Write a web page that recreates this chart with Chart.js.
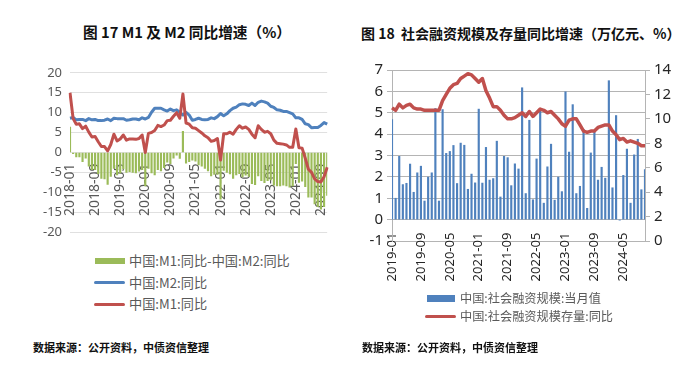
<!DOCTYPE html>
<html>
<head>
<meta charset="utf-8">
<script src="https://cdn.jsdelivr.net/npm/chart.js@4.4.1/dist/chart.umd.min.js"></script>
<style>
body { margin: 0; width: 700px; height: 373px; background: #fff; position: relative; overflow: hidden; font-family: "Noto Sans CJK SC", sans-serif; }
.abs { position: absolute; white-space: nowrap; }
.title { font-weight: bold; color: #111; line-height: 18px; }
.src { font-weight: bold; font-size: 11px; color: #111; line-height: 14px; }
.leg { color: #595959; line-height: 16px; }
.sw { position: absolute; }
canvas { position: absolute; }
</style>
</head>
<body>
<div class="abs title" style="left:83px;top:23px;font-size:14.7px;">图 17 M1 及 M2 同比增速（%）</div>
<div class="abs title" style="left:361px;top:24px;font-size:14px;">图 18&nbsp; 社会融资规模及存量同比增速（万亿元、%）</div>

<canvas id="chartLeft" width="327" height="191" style="left:20px;top:57px;"></canvas>
<canvas id="chartRight" width="350" height="240" style="left:350px;top:50px;"></canvas>

<!-- left legend -->
<div class="sw" style="left:95px;top:258px;width:30px;height:6px;background:#9bbb59;"></div>
<div class="abs leg" style="left:129px;top:253px;font-size:13.2px;">中国:M1:同比-中国:M2:同比</div>
<div class="sw" style="left:94px;top:281px;width:31px;height:3px;border-radius:2px;background:#4f81bd;"></div>
<div class="abs leg" style="left:129px;top:275px;font-size:13.2px;">中国:M2:同比</div>
<div class="sw" style="left:94px;top:303px;width:31px;height:3px;border-radius:2px;background:#c0504d;"></div>
<div class="abs leg" style="left:129px;top:296px;font-size:13.2px;">中国:M1:同比</div>

<!-- right legend -->
<div class="sw" style="left:427px;top:295px;width:28px;height:7px;background:#4f81bd;"></div>
<div class="abs leg" style="left:460px;top:290px;font-size:12.2px;">中国:社会融资规模:当月值</div>
<div class="sw" style="left:425px;top:315px;width:31px;height:3px;border-radius:2px;background:#c0504d;"></div>
<div class="abs leg" style="left:460px;top:308px;font-size:12.2px;">中国:社会融资规模存量:同比</div>

<div class="abs src" style="left:33px;top:340px;">数据来源：公开资料，中债资信整理</div>
<div class="abs src" style="left:362px;top:340px;">数据来源：公开资料，中债资信整理</div>

<script>
// 图17: 2018-01 ~ 2024-11 月度
var monthsLeft = [];
for (var y = 2018; y <= 2024; y++) {
    for (var m = 1; m <= 12; m++) {
        if (y === 2024 && m > 11) break;
        monthsLeft.push(y + '-' + (m < 10 ? '0' + m : m));
    }
}
var m1Yoy = [
    15.0, 8.5, 7.1, 7.2, 6.0, 6.6, 5.1, 3.9, 4.0, 2.7, 1.5, 1.5,
    0.4, 2.0, 4.6, 2.9, 3.4, 4.4, 3.1, 3.4, 3.4, 3.3, 3.5, 4.4,
    0.0, 4.8, 5.0, 5.5, 6.8, 6.5, 6.9, 8.0, 8.1, 9.1, 10.0, 8.6,
    14.7, 7.4, 7.1, 6.2, 6.1, 5.5, 4.9, 4.2, 3.7, 2.8, 3.0, 3.5,
    -1.9, 4.7, 4.7, 5.1, 4.6, 5.8, 6.7, 6.1, 6.4, 5.8, 4.6, 3.7,
    6.7, 5.8, 5.1, 5.3, 4.7, 3.1, 2.3, 2.2, 2.1, 1.9, 1.3, 1.3,
    5.9, 1.2, 1.1, -1.4, -4.2, -5.0, -6.6, -7.3, -7.4, -6.1, -3.7
];
var m2Yoy = [
    8.6, 8.8, 8.2, 8.3, 8.3, 8.0, 8.5, 8.2, 8.3, 8.0, 8.0, 8.1,
    8.4, 8.0, 8.6, 8.5, 8.5, 8.5, 8.1, 8.2, 8.4, 8.4, 8.2, 8.7,
    8.4, 8.8, 10.1, 11.1, 11.1, 11.1, 10.7, 10.4, 10.9, 10.5, 10.7, 10.1,
    9.4, 10.1, 9.4, 8.1, 8.3, 8.6, 8.3, 8.2, 8.3, 8.7, 8.5, 9.0,
    9.8, 9.2, 9.7, 10.5, 11.1, 11.4, 12.0, 12.2, 12.1, 11.8, 12.4, 11.8,
    12.6, 12.9, 12.7, 12.4, 11.6, 11.3, 10.7, 10.6, 10.3, 10.3, 10.0, 9.7,
    8.7, 8.7, 8.3, 7.2, 7.0, 6.2, 6.3, 6.3, 6.8, 7.5, 7.1
];
var m1MinusM2 = [
    6.4, -0.3, -1.1, -1.1, -2.3, -1.4, -3.4, -4.3, -4.3, -5.3, -6.5, -6.6,
    -8.0, -6.0, -4.0, -5.6, -5.1, -4.1, -5.0, -4.8, -5.0, -5.1, -4.7, -4.3,
    -8.4, -4.0, -5.1, -5.6, -4.3, -4.6, -3.8, -2.4, -2.8, -1.4, -0.7, -1.5,
    5.3, -2.7, -2.3, -1.9, -2.2, -3.1, -3.4, -4.0, -4.6, -5.9, -5.5, -5.5,
    -11.7, -4.5, -5.0, -5.4, -6.5, -5.6, -5.3, -6.1, -5.7, -6.0, -7.8, -8.1,
    -5.9, -7.1, -7.6, -7.1, -6.9, -8.2, -8.4, -8.4, -8.2, -8.4, -8.7, -8.4,
    -2.8, -7.5, -7.2, -8.6, -11.2, -11.2, -12.9, -13.6, -14.2, -13.6, -10.8
];

// 图18: 2019-01 ~ 2024-11 月度
var monthsRight = monthsLeft.slice(12);
var tsfMonthly = [
    4.68, 1.0, 2.96, 1.64, 1.7, 2.6, 1.28, 2.19, 2.5, 0.87, 1.99, 2.19,
    5.2, 0.87, 5.15, 3.1, 3.19, 3.47, 1.69, 3.58, 3.48, 1.42, 2.13, 1.72,
    5.17, 1.71, 3.38, 1.85, 1.92, 3.67, 1.06, 2.96, 2.9, 1.59, 2.61, 2.37,
    6.17, 1.22, 4.65, 0.93, 2.84, 5.17, 0.77, 2.47, 3.53, 0.91, 1.99, 1.31,
    5.98, 3.16, 5.38, 1.22, 1.56, 4.22, 0.53, 3.12, 4.13, 1.85, 2.45, 1.94,
    6.5, 1.49, 4.87, -0.02, 2.07, 3.3, 0.77, 3.03, 3.76, 1.4, 2.34
];
var tsfStockYoy = [
    10.9, 10.7, 11.2, 10.9, 11.1, 11.2, 10.9, 10.8, 10.8, 10.7, 10.7, 10.7,
    10.7, 10.7, 11.5, 12.0, 12.5, 12.8, 12.9, 13.3, 13.5, 13.7, 13.6, 13.3,
    13.0, 13.3, 12.3, 11.7, 11.0, 11.0, 10.7, 10.3, 10.0, 10.0, 10.1, 10.3,
    10.5, 10.2, 10.6, 10.2, 10.5, 10.8, 10.7, 10.5, 10.6, 10.3, 10.0, 9.6,
    9.4, 9.9, 10.0, 10.0, 9.5, 9.0, 8.9, 9.0, 9.0, 9.3, 9.4, 9.5,
    9.5, 9.0, 8.7, 8.3, 8.4, 8.1, 8.2, 8.1, 8.0, 7.8, 7.8
];

// 8か月ごとにラベル表示
function everyEighth(value, index) {
    return index % 8 === 0 ? this.getLabelForValue(value) : '';
}

new Chart(document.getElementById('chartLeft').getContext('2d'), {
    type: 'bar',
    data: {
        labels: monthsLeft,
        datasets: [{
            type: 'line',
            label: '中国:M1:同比',
            data: m1Yoy,
            borderColor: '#c0504d',
            borderWidth: 3,
            pointRadius: 0,
            tension: 0,
            borderJoinStyle: 'round',
            order: 0
        }, {
            type: 'line',
            label: '中国:M2:同比',
            data: m2Yoy,
            borderColor: '#4f81bd',
            borderWidth: 3,
            pointRadius: 0,
            tension: 0,
            borderJoinStyle: 'round',
            order: 1
        }, {
            label: '中国:M1:同比-中国:M2:同比',
            data: m1MinusM2,
            backgroundColor: '#9bbb59',
            barThickness: 1.5,
            order: 2
        }]
    },
    options: {
        responsive: false,
        animation: false,
        devicePixelRatio: 1,
        layout: { padding: 0 },
        plugins: { legend: { display: false }, tooltip: { enabled: false } },
        scales: {
            x: {
                position: { y: 0 },
                offset: false,
                grid: { display: false },
                border: { display: false },
                ticks: {
                    autoSkip: false,
                    minRotation: 90,
                    maxRotation: 90,
                    padding: 3,
                    color: '#595959',
                    font: { family: 'Noto Sans', size: 14 },
                    callback: everyEighth
                }
            },
            y: {
                min: -20,
                max: 20,
                ticks: {
                    stepSize: 5,
                    padding: 8,
                    color: '#595959',
                    font: { family: 'Noto Sans', size: 13 }
                },
                grid: { color: '#e0e0e0', drawTicks: false },
                border: { display: false },
                afterFit: function(scale) { scale.width = 50; }
            }
        }
    }
});

new Chart(document.getElementById('chartRight').getContext('2d'), {
    type: 'bar',
    data: {
        labels: monthsRight,
        datasets: [{
            type: 'line',
            label: '中国:社会融资规模存量:同比',
            data: tsfStockYoy,
            yAxisID: 'y1',
            borderColor: '#c0504d',
            borderWidth: 3.5,
            pointRadius: 0,
            tension: 0,
            borderJoinStyle: 'round',
            order: 0
        }, {
            label: '中国:社会融资规模:当月值',
            data: tsfMonthly,
            yAxisID: 'y',
            backgroundColor: '#4f81bd',
            barThickness: 1.5,
            order: 1
        }]
    },
    options: {
        responsive: false,
        animation: false,
        devicePixelRatio: 1,
        layout: { padding: { top: 20, right: 0, bottom: 49, left: 0 } },
        plugins: { legend: { display: false }, tooltip: { enabled: false } },
        scales: {
            x: {
                position: { y: 0 },
                offset: false,
                grid: { display: false },
                border: { display: false },
                ticks: {
                    autoSkip: false,
                    minRotation: 90,
                    maxRotation: 90,
                    padding: 5,
                    color: '#262626',
                    font: { family: 'Noto Sans', size: 13 },
                    callback: everyEighth
                }
            },
            y: {
                position: 'left',
                min: -1,
                max: 7,
                ticks: {
                    stepSize: 1,
                    padding: 4,
                    color: '#262626',
                    font: { family: 'Noto Sans', size: 15 }
                },
                grid: { color: '#b4b4b4', tickLength: 5 },
                border: { display: true, color: '#b4b4b4' },
                afterFit: function(scale) { scale.width = 42; }
            },
            y1: {
                position: 'right',
                min: 0,
                max: 14,
                ticks: {
                    stepSize: 2,
                    padding: 4,
                    color: '#262626',
                    font: { family: 'Noto Sans', size: 15 }
                },
                grid: { drawOnChartArea: false, color: '#b4b4b4', tickLength: 5 },
                border: { display: true, color: '#b4b4b4' },
                afterFit: function(scale) { scale.width = 55; }
            }
        }
    }
});
</script>
</body>
</html>
